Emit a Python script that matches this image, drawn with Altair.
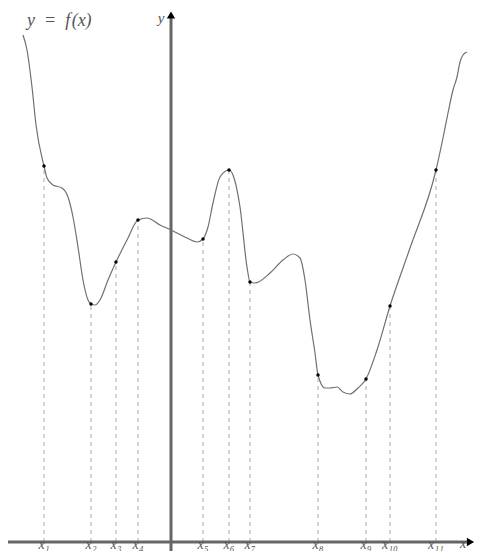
import altair as alt
import pandas as pd

# curve samples (x, y) in chart units; y-axis at x=0, x-axis at y=0
curve_x = [-14.8, -14.4, -13.9, -13.5, -12.7, -12.4, -11.8, -10.9, -10.3, -9.8, -9.3, -8.8, -8.3, -8.0,
           -7.6, -7.1, -6.3, -5.5, -4.4, -3.3, -2.4, -1.1, 0.0, 1.6, 2.6, 3.2, 3.7, 4.2, 4.9, 5.8,
           6.2, 6.9, 7.6, 7.9, 8.4, 9.9, 11.2, 12.2, 12.9, 13.4, 13.9, 14.4, 14.7, 15.4, 15.9, 16.6,
           17.2, 17.9, 18.7, 19.5, 20.6, 21.9, 23.9, 26.5, 27.2, 27.7, 28.2, 28.6, 28.9, 29.2, 29.6]
curve_y = [50.7, 49.2, 45.5, 41.7, 37.6, 36.4, 35.7, 35.4, 34.5, 32.5, 29.5, 26.2, 24.2, 23.8,
           23.7, 24.2, 26.2, 28.0, 30.2, 32.2, 32.4, 31.7, 31.2, 30.4, 30.0, 30.3, 31.5, 33.9, 36.5, 37.2,
           36.7, 33.5, 27.5, 26.0, 25.9, 26.9, 28.2, 28.8, 28.4, 26.2, 22.2, 18.9, 16.7, 15.4, 15.4, 15.5,
           15.0, 14.8, 15.4, 16.3, 19.2, 23.6, 29.4, 37.2, 40.4, 42.9, 45.2, 46.5, 48.0, 48.7, 49.0]

# marked points
pt_labels = ["x₁", "x₂", "x₃", "x₄", "x₅", "x₆", "x₇", "x₈", "x₉", "x₁₀", "x₁₁"]
pt_x = [-12.7, -8.0, -5.5, -3.3, 3.2, 5.8, 7.9, 14.7, 19.5, 21.9, 26.5]
pt_y = [37.6, 23.8, 28.0, 32.2, 30.3, 37.2, 26.0, 16.7, 16.3, 23.6, 37.2]

# axis extents
x_axis_range = [-16.3, 29.6]
y_axis_range = [-1.5, 52.6]
x_arrow = [29.95, 0.0]
y_arrow = [0.0, 52.7]

XD = [-16.3, 30.4]
YD = [-0.9, 53.4]

curve = pd.DataFrame({"x": curve_x, "y": curve_y, "o": list(range(len(curve_x)))})
pts = pd.DataFrame({"x": pt_x, "y": pt_y, "label": pt_labels, "zero": [0.0] * len(pt_x),
                    "ly": [-0.7] * len(pt_x)})

xs = alt.Scale(domain=XD, nice=False, zero=False)
ys = alt.Scale(domain=YD, nice=False, zero=False)
X = lambda f: alt.X(f, type="quantitative", scale=xs, axis=None)
Y = lambda f: alt.Y(f, type="quantitative", scale=ys, axis=None)

dashes = alt.Chart(pts).mark_rule(color="#aaaaaa", strokeWidth=1, strokeDash=[4, 4]).encode(
    x=X("x"), y=Y("zero"), y2="y")

xaxis = alt.Chart(pd.DataFrame({"a": [x_axis_range[0]], "b": [x_axis_range[1]], "y": [0.0]})).mark_rule(
    color="#666666", strokeWidth=3).encode(x=X("a"), x2="b", y=Y("y"))
yaxis = alt.Chart(pd.DataFrame({"a": [y_axis_range[0]], "b": [y_axis_range[1]], "x": [0.0]})).mark_rule(
    color="#666666", strokeWidth=3).encode(y=Y("a"), y2="b", x=X("x"))

arrow_r = alt.Chart(pd.DataFrame({"x": [x_arrow[0]], "y": [x_arrow[1]]})).mark_point(
    shape="triangle-right", filled=True, color="black", size=70, opacity=1).encode(x=X("x"), y=Y("y"))
arrow_u = alt.Chart(pd.DataFrame({"x": [y_arrow[0]], "y": [y_arrow[1]]})).mark_point(
    shape="triangle-up", filled=True, color="black", size=70, opacity=1).encode(x=X("x"), y=Y("y"))

line = alt.Chart(curve).mark_line(color="#707070", strokeWidth=1.2, interpolate="monotone").encode(
    x=X("x"), y=Y("y"), order="o:Q")

dots = alt.Chart(pts).mark_point(filled=True, color="black", size=12, opacity=1).encode(x=X("x"), y=Y("y"))

font = "Liberation Serif"
ticks = alt.Chart(pts).mark_text(font=font, fontStyle="italic", fontSize=14, color="#555555",
                                 baseline="alphabetic", align="center").encode(
    x=X("x"), y=Y("ly"), text="label")

texts = pd.DataFrame({"x": [29.2, -1.0], "y": [-0.55, 51.9], "t": ["x", "y"],
                      "s": [14, 15]})
axlabels = alt.Chart(texts).mark_text(font=font, fontStyle="italic", color="#555555",
                                      baseline="alphabetic", align="center").encode(
    x=X("x"), y=Y("y"), text="t", size=alt.Size("s:Q", scale=None, legend=None))

title = alt.Chart(pd.DataFrame({"x": [-14.4], "y": [51.6], "t": ["y\u2002=\u2002f\u200a(x)"]})).mark_text(
    font=font, fontStyle="italic", fontSize=18, color="#555555", baseline="alphabetic", align="left").encode(
    x=X("x"), y=Y("y"), text="t")

chart = alt.layer(dashes, xaxis, yaxis, line, dots, arrow_r, arrow_u, ticks, axlabels, title).properties(
    width=467, height=543, padding=0, autosize=alt.AutoSizeParams(type="none")
).configure_view(stroke=None)

chart.save("out.html", embed_options={"renderer": "svg", "actions": False})
